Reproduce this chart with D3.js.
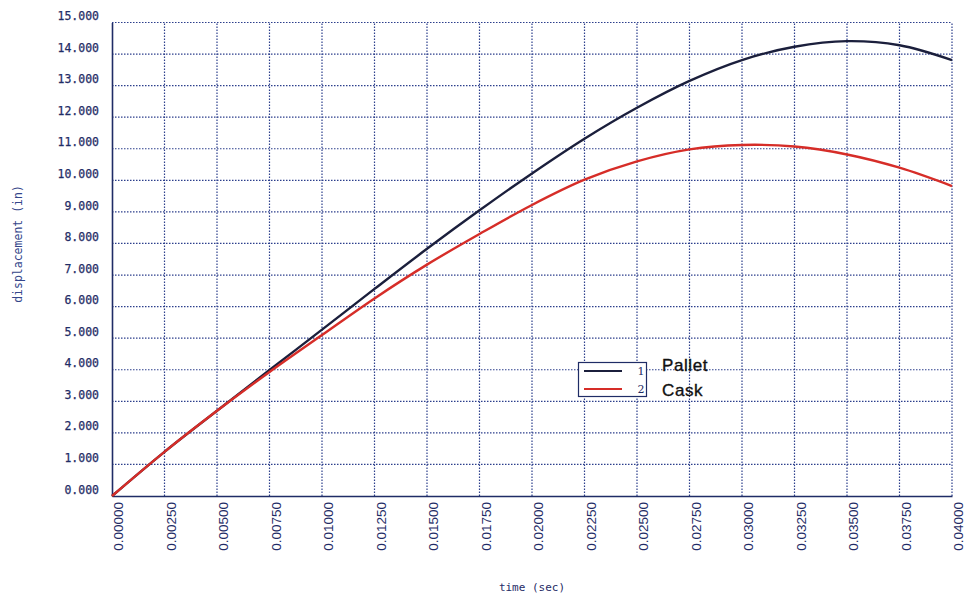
<!DOCTYPE html>
<html>
<head>
<meta charset="utf-8">
<script src="https://cdn.jsdelivr.net/npm/d3@7"></script>
<style>
  html, body { margin: 0; padding: 0; background: #fff; }
  svg { display: block; }
</style>
</head>
<body>
<svg id="chart" width="969" height="601"></svg>
<script>
// Time samples (sec)
const times = [0, 0.0025, 0.005, 0.0075, 0.01, 0.0125, 0.015, 0.0175, 0.02,
               0.0225, 0.025, 0.0275, 0.03, 0.0325, 0.035, 0.0375, 0.04];
// Displacement (in) of the pallet
const pallet = [0, 1.40, 2.70, 3.99, 5.27, 6.56, 7.83, 9.05, 10.22,
                11.32, 12.30, 13.15, 13.81, 14.23, 14.41, 14.28, 13.81];
// Displacement (in) of the cask
const cask = [0, 1.40, 2.70, 3.93, 5.10, 6.26, 7.33, 8.30, 9.22,
              10.02, 10.60, 10.98, 11.12, 11.07, 10.82, 10.40, 9.82];

const xTicks = d3.range(0, 17).map(i => i * 0.0025);
const yTicks = d3.range(0, 16);
const seriesNames = ["Pallet", "Cask"];
const seriesIds = ["1", "2"];

const navy = "#1f2c66";
const colors = ["#1b1f3c", "#d62d28"];

const svg = d3.select("#chart");
const x = d3.scaleLinear().domain([0, 0.04]).range([112, 952]);
const y = d3.scaleLinear().domain([0, 15]).range([496, 22.5]);

// dotted grid
const grid = svg.append("g")
  .attr("stroke", "#2c3f8c")
  .attr("stroke-width", 1.2)
  .attr("stroke-dasharray", "1.5,1.5")
  .attr("fill", "none");
grid.selectAll("line.h").data(yTicks.filter(v => v > 0)).join("line")
  .attr("class", "h")
  .attr("x1", x(0)).attr("x2", x(0.04))
  .attr("y1", d => y(d)).attr("y2", d => y(d));
grid.selectAll("line.v").data(xTicks.filter(v => v > 0)).join("line")
  .attr("class", "v")
  .attr("y1", y(0)).attr("y2", y(15))
  .attr("x1", d => x(d)).attr("x2", d => x(d));

// y axis
const yAxis = d3.axisLeft(y).tickValues(yTicks).tickFormat(d3.format(".3f")).tickSize(0).tickPadding(13);
const gy = svg.append("g").attr("transform", `translate(${x(0)},0)`).call(yAxis);
gy.select(".domain").attr("stroke", navy).attr("stroke-width", 1.6);
gy.selectAll("text")
  .attr("font-family", "'DejaVu Sans Mono', monospace")
  .attr("font-size", 11.5)
  .attr("fill", navy)
  .attr("stroke", navy).attr("stroke-width", 0.25)
  .attr("dy", "-0.25em");

// x axis
const xAxis = d3.axisBottom(x).tickValues(xTicks).tickFormat(d3.format(".5f")).tickSize(0);
const gx = svg.append("g").attr("transform", `translate(0,${y(0)})`).call(xAxis);
gx.select(".domain").attr("stroke", navy).attr("stroke-width", 1.6);
gx.selectAll("text")
  .attr("font-family", "'Liberation Sans', Arial, sans-serif")
  .attr("font-size", 13.5)
  .attr("fill", navy)
  .attr("text-anchor", "end")
  .attr("x", -6)
  .attr("y", 0)
  .attr("dy", "0.72em")
  .attr("transform", "rotate(-90) translate(0,1)");

// axis titles
svg.append("text")
  .attr("x", 532).attr("y", 591)
  .attr("text-anchor", "middle")
  .attr("font-family", "'DejaVu Sans Mono', monospace")
  .attr("font-size", 11)
  .attr("fill", navy)
  .text("time (sec)");
svg.append("text")
  .attr("transform", "translate(22,244) rotate(-90)")
  .attr("text-anchor", "middle")
  .attr("font-family", "'DejaVu Sans Mono', monospace")
  .attr("font-size", 11.5)
  .attr("fill", "#34468a")
  .text("displacement (in)");

// curves
const line = d3.line()
  .x(d => x(d[0]))
  .y(d => y(d[1]))
  .curve(d3.curveCatmullRom.alpha(0.5));
[pallet, cask].forEach((vals, i) => {
  svg.append("path")
    .datum(times.map((t, k) => [t, vals[k]]))
    .attr("fill", "none")
    .attr("stroke", colors[i])
    .attr("stroke-width", 2.4)
    .attr("d", line);
});

// legend
const lg = svg.append("g");
lg.append("rect")
  .attr("x", 578.5).attr("y", 362.5)
  .attr("width", 68).attr("height", 34)
  .attr("fill", "#fff")
  .attr("stroke", navy).attr("stroke-width", 1.2);
seriesNames.forEach((name, i) => {
  const ly = 371 + i * 18;
  lg.append("line")
    .attr("x1", 584).attr("x2", 622)
    .attr("y1", ly).attr("y2", ly)
    .attr("stroke", colors[i]).attr("stroke-width", 2.2);
  lg.append("text")
    .attr("x", 641).attr("y", ly + 4)
    .attr("text-anchor", "middle")
    .attr("font-family", "'DejaVu Serif', serif")
    .attr("font-size", 11)
    .attr("fill", navy)
    .text(seriesIds[i]);
  lg.append("text")
    .attr("x", 662).attr("y", 371 + i * 25)
    .attr("font-family", "'Liberation Sans', Arial, sans-serif")
    .attr("font-size", 17)
    .attr("letter-spacing", 0.6)
    .attr("fill", "#111")
    .attr("stroke", "#111").attr("stroke-width", 0.35)
    .text(name);
});
</script>
</body>
</html>
